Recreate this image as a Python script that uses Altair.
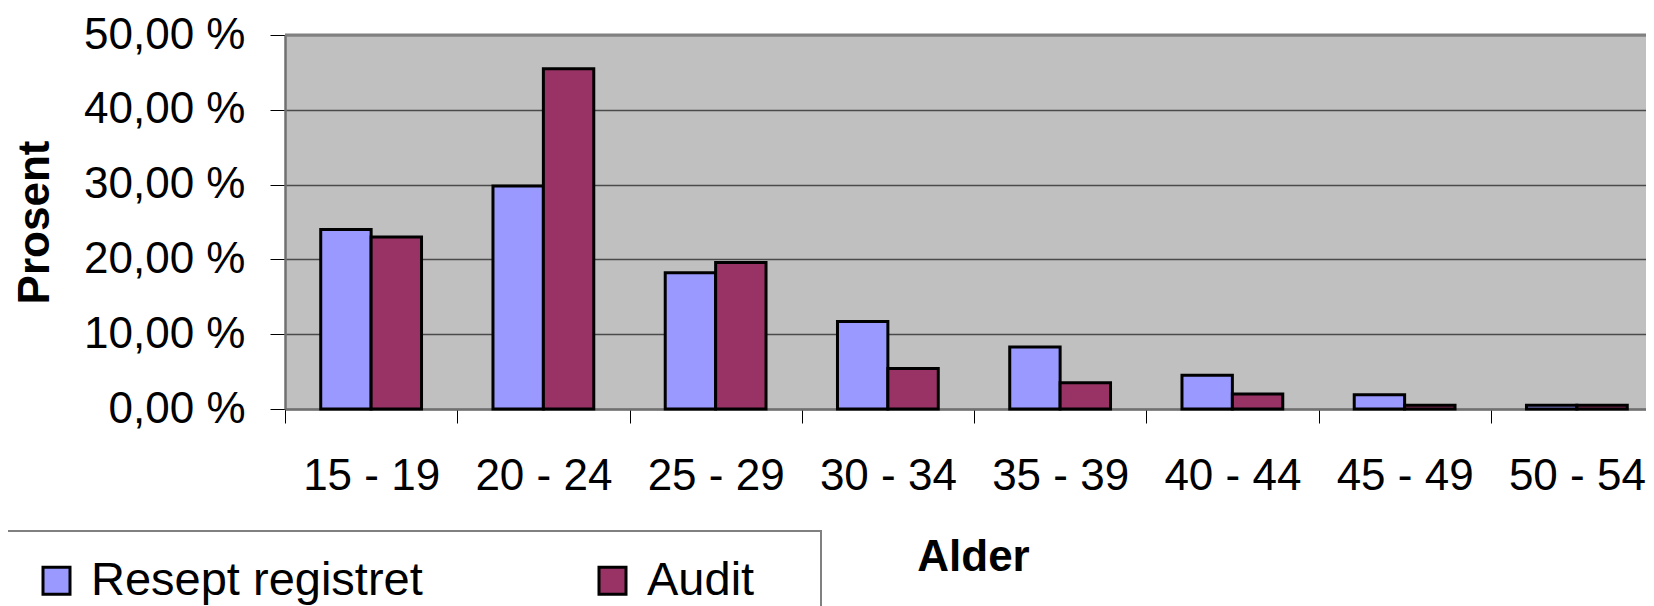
import altair as alt
import pandas as pd

categories = ["15 - 19", "20 - 24", "25 - 29", "30 - 34", "35 - 39", "40 - 44", "45 - 49", "50 - 54"]
resept = [24.0, 29.8, 18.2, 11.7, 8.3, 4.5, 1.9, 0.5]
audit = [23.0, 45.5, 19.6, 5.4, 3.5, 2.0, 0.5, 0.5]
series = ["Resept registret", "Audit"]
colors = ["#9999FF", "#993366"]

rows = []
for i, c in enumerate(categories):
    rows.append({"Alder": c, "Serie": series[0], "Prosent": resept[i]})
    rows.append({"Alder": c, "Serie": series[1], "Prosent": audit[i]})
df = pd.DataFrame(rows)

FONT = "Liberation Sans"

bars = alt.Chart(df).mark_bar(stroke="black", strokeWidth=3).encode(
    x=alt.X("Alder:N", sort=categories,
            scale=alt.Scale(paddingInner=0, paddingOuter=0, range=[0, 1378]),
            axis=alt.Axis(title="Alder", tickBand="extent", tickSize=14, tickColor="#000000",
                          tickWidth=1, labelAngle=0, labelFontSize=44, labelFont=FONT,
                          labelColor="black", labelPadding=31, domainColor="#707070",
                          domainWidth=2.5, titleFont=FONT, titleFontSize=44,
                          titleFontWeight="bold", titleColor="black", titlePadding=37,
                          titleX=688, grid=False, labelLimit=400)),
    xOffset=alt.XOffset("Serie:N", sort=series, scale=alt.Scale(paddingInner=0, paddingOuter=0.709)),
    y=alt.Y("Prosent:Q", scale=alt.Scale(domain=[0, 50], nice=False),
            axis=alt.Axis(title="Prosent", values=[0, 10, 20, 30, 40, 50],
                          labelExpr="replace(format(datum.value, '.2f'), '.', ',') + ' %'",
                          tickSize=15, tickColor="#000000", labelFontSize=44, labelFont=FONT,
                          labelColor="black", labelPadding=25, domainColor="#707070",
                          domainWidth=2.5, grid=True, gridColor="#4a4a4a", gridWidth=1.5,
                          titleFont=FONT, titleFontSize=44, titleFontWeight="bold",
                          titleColor="black", titlePadding=28)),
    color=alt.Color("Serie:N", sort=series,
                    scale=alt.Scale(domain=series, range=colors),
                    legend=alt.Legend(title=None, orient="none", legendX=-252, legendY=522,
                                      direction="horizontal", columns=2, labelFontSize=47,
                                      labelFont=FONT, labelColor="black", symbolType="square",
                                      symbolSize=729, symbolStrokeColor="black",
                                      symbolStrokeWidth=3, labelOffset=11, columnPadding=166,
                                      labelLimit=500, padding=0)),
)

one = pd.DataFrame({"k": [0]})
box = alt.Chart(one).mark_rect(fill="white", stroke="#808080", strokeWidth=2).encode(
    x=alt.value(-300), x2=alt.value(536), y=alt.value(496), y2=alt.value(700)
)
top_border = alt.Chart(one).mark_rule(color="#808080", strokeWidth=3).encode(
    x=alt.value(0), x2=alt.value(1400), y=alt.value(0)
)

chart = alt.layer(box, bars, top_border).properties(
    width=1361, height=374,
    autosize=alt.AutoSizeParams(type="none"),
    padding={"left": 277, "top": 27, "right": 0, "bottom": 197},
    background="white",
).configure_view(fill="#C0C0C0", strokeWidth=0)

chart.save("out.html", embed_options={"renderer": "svg", "actions": False})
